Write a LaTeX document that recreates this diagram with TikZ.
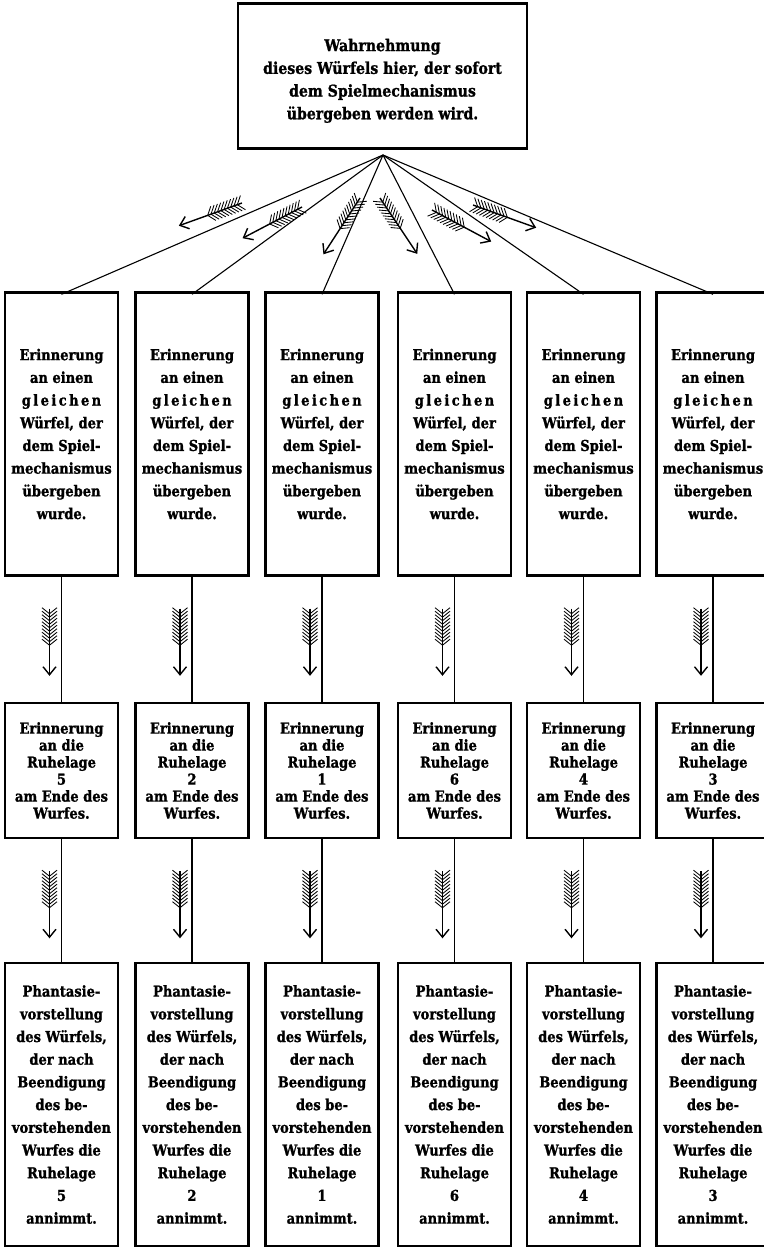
\documentclass[tikz,border=0pt]{standalone}
\usepackage{fontspec}
\setmainfont{DejaVu Serif}[FakeStretch=0.87, BoldFeatures={FakeBold=1.2}]
\usetikzlibrary{calc}

% letter-spaced word
\newcommand\gl{g\kern2.4pt l\kern2.4pt e\kern2.4pt i\kern2.4pt c\kern2.4pt h\kern2.4pt e\kern2.4pt n}

\tikzset{
  box/.style={draw=black, line width=2.4pt, inner sep=0pt, align=center,
    font=\bfseries\fontsize{15}{22.7}\selectfont},
  tallbox/.style={box, minimum width=113pt, minimum height=283pt},
  lowbox/.style={box, minimum width=113pt, minimum height=135pt,
    font=\bfseries\fontsize{15}{17}\selectfont},
  topbox/.style={box, minimum width=289pt, minimum height=145pt,
    font=\bfseries\fontsize{16.2}{22.7}\selectfont},
  link/.style={line width=1.1pt},
  shaft/.style={line width=1.4pt},
  barb/.style={line width=0.85pt},
  feathered/.pic={
    \draw[shaft] (0,0) -- (66,0);
    \draw[shaft, line join=miter] (58,-6.5) -- (66,0) -- (58,6.5);
    \foreach \s in {5,8.5,...,37}{
      \draw[barb] (\s,0) -- (\s-6,-7.5) (\s,0) -- (\s-6,7.5);
    }
  }
}

\newcommand\rowA{Erinnerung\\an einen\\\gl\\Würfel, der\\dem Spiel-\\mechanismus\\übergeben\\wurde.}
\newcommand\rowB[1]{Erinnerung\\an die\\Ruhelage\\#1\\am Ende des\\Wurfes.}
\newcommand\rowC[1]{Phantasie-\\vorstellung\\des Würfels,\\der nach\\Beendigung\\des be-\\vorstehenden\\Wurfes die\\Ruhelage\\#1\\annimmt.}

\begin{document}
\begin{tikzpicture}[x=1pt, y=-1pt]
  \fill[white] (0,0) rectangle (763,1250);
  \useasboundingbox (0,0) rectangle (763,1250);

  % perception of the die
  \node[topbox] (t) at (382.5,76) {\rule{0pt}{22pt}Wahrnehmung\\dieses Würfels hier, der sofort\\dem Spielmechanismus\\übergeben werden wird.};
  \coordinate (apex) at (383,155);

  % three rows of six columns
  \foreach \i/\x/\n in {1/61.5/5, 2/192/2, 3/322/1, 4/454.5/6, 5/583.5/4, 6/713/3}{
    \node[tallbox] (a\i) at (\x,434) {\rowA};
    \node[lowbox]  (b\i) at (\x,770.5) {\rowB{\n}};
    \node[tallbox] (c\i) at (\x,1104.5) {\rowC{\n}};
    \draw[link] (apex) -- ([yshift=-3pt]a\i.north);
    \draw[link] (a\i.south) -- (b\i.north);
    \draw[link] (b\i.south) -- (c\i.north);
    \pic[rotate=-90] at ($(a\i.south)+(-12,32)$) {feathered};
    \pic[rotate=-90] at ($(b\i.south)+(-12,32)$) {feathered};
  }

  % arrows along the fan
  \pic[rotate=-160.2] at (242,203) {feathered};
  \pic[rotate=-152.3] at (302,207) {feathered};
  \pic[rotate=-123.0] at (360,198) {feathered};
  \pic[rotate=-56.3]  at (380,198) {feathered};
  \pic[rotate=-28.1]  at (432,210) {feathered};
  \pic[rotate=-19.8]  at (473,205) {feathered};
\end{tikzpicture}
\end{document}
